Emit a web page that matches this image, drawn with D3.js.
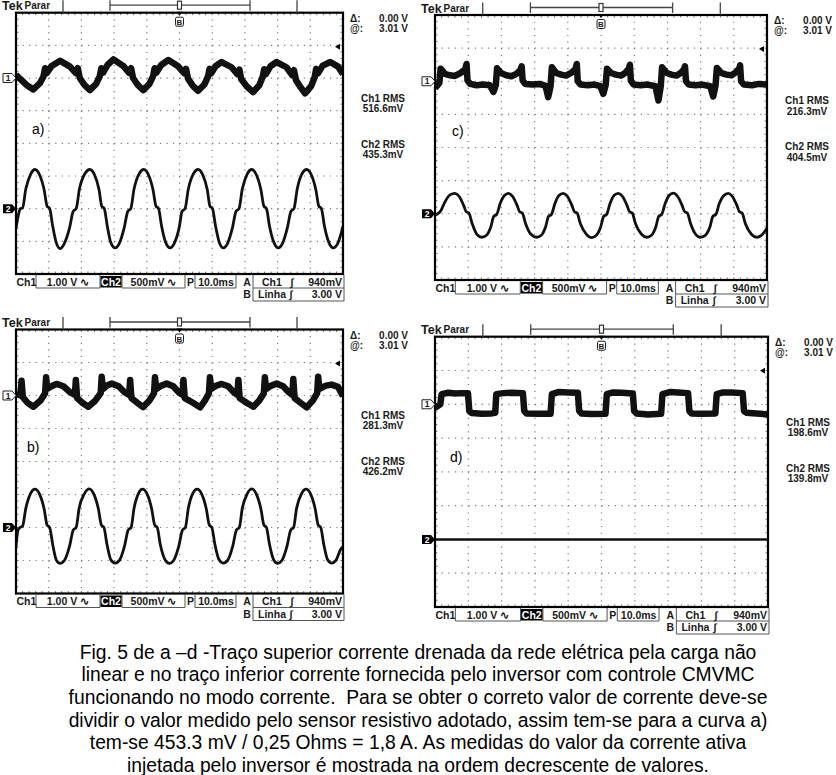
<!DOCTYPE html>
<html><head><meta charset="utf-8">
<script src="https://cdn.jsdelivr.net/npm/d3@7"></script>
<style>body{margin:0;background:#fff}svg{display:block}</style>
</head><body>
<svg id="c" width="836" height="775"></svg>
<script>
// ================= DATA =================
const panelIds = ["a", "b", "c", "d"];
const timeRangeMs = [0, 100];              // 10 div x 10.0 ms
const ch1RmsLabels = ["516.6mV", "281.3mV", "216.3mV", "198.6mV"];
const ch2RmsLabels = ["435.3mV", "426.2mV", "404.5mV", "139.8mV"];
const ch1Setting = "1.00 V \u223F";
const ch2Setting = "500mV \u223F";
const timebaseSetting = "10.0ms";
const trigASource = "Ch1", trigALevel = "940mV";
const trigBSource = "Linha", trigBLevel = "3.00 V";
const deltaReadout = "0.00 V", atReadout = "3.01 V";

// Ch1 traces: [time ms, volts]  (1.00 V/div)
const aCh1 = [[0,0.10],[1.2,-0.02],[3.3,-0.22],[5.3,-0.35],[7.3,-0.16],[8.4,0.05],[8.9,0.30],[9.4,0.15],[10.9,0.37],[13.5,0.53],[16.5,0.35],[18.3,0.15],[18.9,0.30],[19.5,0.0],[21.0,-0.22],[22.6,-0.37],[24.5,-0.18],[25.6,0.05],[26.1,0.30],[26.6,0.16],[28.0,0.40],[29.8,0.57],[32.8,0.37],[34.6,0.16],[35.2,0.30],[35.8,0.0],[37.3,-0.22],[38.9,-0.37],[40.8,-0.18],[41.9,0.05],[42.4,0.30],[42.9,0.16],[44.4,0.40],[46.6,0.55],[49.6,0.36],[51.4,0.15],[52.0,0.28],[52.6,-0.02],[54.1,-0.24],[55.7,-0.39],[57.6,-0.2],[58.7,0.04],[59.2,0.28],[59.7,0.14],[61.0,0.36],[62.9,0.49],[65.9,0.33],[67.7,0.12],[68.3,0.26],[68.9,-0.04],[70.6,-0.26],[72.5,-0.43],[74.4,-0.22],[75.4,0.02],[75.9,0.27],[76.4,0.12],[77.8,0.36],[79.7,0.49],[82.7,0.33],[84.4,0.10],[85.0,0.24],[85.6,-0.06],[87.0,-0.28],[88.4,-0.47],[90.3,-0.24],[91.3,0.02],[91.8,0.28],[92.3,0.14],[93.8,0.38],[96.1,0.49],[98.5,0.35],[100,0.12]];
const bCh1 = [[0,0.05],[1.4,0.0],[1.7,0.45],[2.1,-0.05],[3.5,-0.22],[5.3,-0.34],[7.5,-0.15],[8.9,0.07],[9.2,0.55],[9.6,0.2],[10.8,0.28],[12.4,0.35],[14.5,0.28],[16.5,0.1],[18.0,0.02],[18.3,0.47],[18.7,-0.08],[20.3,-0.22],[22.1,-0.34],[24.3,-0.15],[25.9,0.07],[26.2,0.57],[26.6,0.2],[27.8,0.3],[29.3,0.36],[31.4,0.28],[33.2,0.1],[34.6,0.02],[34.9,0.47],[35.3,-0.08],[37.1,-0.22],[38.9,-0.35],[40.8,-0.15],[42.2,0.07],[42.5,0.55],[42.9,0.2],[44.5,0.3],[46.1,0.36],[48.1,0.28],[49.7,0.1],[50.9,0.02],[51.2,0.47],[51.6,-0.08],[54.1,-0.22],[56.3,-0.36],[57.8,-0.15],[59.0,0.07],[59.3,0.55],[59.7,0.2],[61.3,0.3],[62.9,0.35],[64.9,0.28],[66.6,0.1],[67.7,0.02],[68.0,0.47],[68.4,-0.08],[70.5,-0.22],[72.6,-0.34],[74.4,-0.15],[75.8,0.07],[76.1,0.55],[76.5,0.2],[78.1,0.3],[79.7,0.36],[81.7,0.28],[83.4,0.1],[84.5,0.02],[84.8,0.5],[85.2,-0.08],[87.0,-0.22],[88.9,-0.36],[90.8,-0.15],[92.1,0.07],[92.4,0.57],[92.8,0.2],[94.8,0.3],[96.5,0.33],[98.5,0.26],[100,-0.02]];
const cCh1 = [[0,-0.2],[0.8,-0.12],[1.3,-0.05],[1.7,0.38],[3.0,0.22],[4.5,0.18],[6.0,0.16],[7.5,0.24],[9.1,0.36],[9.5,0.52],[9.8,0.02],[10.6,-0.08],[12.5,-0.12],[14.5,-0.1],[16.5,-0.12],[17.6,-0.32],[18.3,-0.12],[18.7,0.39],[20.0,0.24],[21.5,0.18],[23.0,0.15],[24.5,0.22],[25.7,0.34],[26.1,0.45],[26.4,0.02],[27.2,-0.08],[29.5,-0.1],[31.5,-0.08],[33.3,-0.14],[34.1,-0.48],[34.8,-0.15],[35.2,0.42],[36.5,0.25],[38.0,0.2],[39.5,0.17],[41.0,0.25],[42.3,0.36],[42.7,0.52],[43.0,0.0],[43.8,-0.1],[46.0,-0.12],[48.0,-0.1],[49.8,-0.15],[50.7,-0.38],[51.4,-0.12],[51.8,0.38],[53.0,0.25],[54.5,0.2],[56.0,0.17],[57.3,0.25],[58.4,0.38],[58.7,0.5],[59.0,0.02],[59.8,-0.1],[62.0,-0.12],[64.0,-0.1],[66.4,-0.15],[67.3,-0.58],[68.0,-0.15],[68.4,0.42],[69.8,0.25],[71.2,0.2],[72.7,0.17],[74.0,0.25],[75.0,0.36],[75.3,0.45],[75.6,0.0],[76.4,-0.1],[78.5,-0.12],[80.5,-0.1],[82.9,-0.15],[83.8,-0.46],[84.5,-0.12],[84.9,0.4],[86.2,0.25],[87.8,0.2],[89.3,0.18],[90.6,0.27],[91.6,0.38],[91.9,0.48],[92.2,0.0],[93.0,-0.1],[95.5,-0.12],[97.5,-0.08],[100,-0.1]];
const dCh1 = [[0,-0.1],[1.6,0.0],[2.0,0.3],[4,0.34],[6,0.32],[8,0.33],[9.9,0.33],[10.3,-0.2],[11,-0.26],[14,-0.28],[17,-0.27],[18.1,-0.25],[18.4,0.3],[20.5,0.33],[23,0.34],[26.4,0.33],[26.8,-0.2],[27.5,-0.27],[31,-0.28],[34.7,-0.28],[35.1,0.3],[37,0.36],[40,0.35],[42.9,0.34],[43.3,-0.2],[44,-0.27],[47,-0.29],[51.2,-0.28],[51.6,0.3],[53.5,0.35],[56,0.34],[59.4,0.32],[59.8,-0.2],[60.5,-0.27],[64,-0.3],[67.9,-0.28],[68.3,0.3],[70.5,0.36],[73,0.35],[76.0,0.33],[76.4,-0.2],[77,-0.27],[80,-0.28],[84.2,-0.27],[84.6,0.3],[86.5,0.35],[89,0.35],[92.4,0.33],[92.8,-0.2],[93.5,-0.25],[96.5,-0.27],[100,-0.3]];

// Ch2 traces: [time ms, millivolts]  (500 mV/div)
const aCh2 = [[0,-300],[0.8,-80],[1.3,0],[2.0,10],[3.0,300],[4.5,530],[5.8,600],[7.2,520],[8.6,290],[9.5,40],[10.3,0],[11.2,-260],[12.3,-520],[13.5,-610],[14.8,-530],[16.4,-290],[17.5,-40],[18.4,0],[19.4,300],[21.0,530],[22.6,600],[24.0,520],[25.4,290],[26.2,40],[27.0,0],[27.9,-260],[29.0,-520],[30.3,-600],[31.6,-530],[33.1,-290],[34.2,-40],[35.1,0],[36.1,300],[37.6,530],[39.1,600],[40.5,520],[41.9,290],[42.8,40],[43.6,0],[44.5,-260],[45.8,-520],[47.1,-600],[48.4,-530],[49.9,-290],[50.8,-40],[51.7,0],[52.7,300],[54.2,530],[55.7,600],[57.1,520],[58.5,290],[59.3,40],[60.1,0],[61.0,-260],[62.2,-520],[63.4,-600],[64.7,-530],[66.2,-290],[67.3,-40],[68.2,0],[69.2,300],[70.7,530],[72.1,600],[73.5,520],[74.9,290],[75.8,40],[76.6,0],[77.5,-260],[78.9,-520],[80.2,-600],[81.5,-530],[83.0,-290],[84.1,-40],[85.0,0],[86.0,300],[87.4,530],[88.9,600],[90.3,520],[91.7,290],[92.6,40],[93.4,0],[94.3,-260],[95.7,-520],[97.0,-600],[98.4,-530],[100,-270]];
const bCh2 = [[0,-290],[0.6,-40],[1.2,0],[2.0,20],[3.0,290],[4.4,510],[5.8,580],[7.2,505],[8.6,280],[9.5,40],[10.3,0],[11.2,-250],[12.3,-490],[13.5,-545],[14.8,-500],[16.4,-280],[17.5,-40],[18.4,0],[19.3,290],[20.9,510],[22.4,585],[23.8,505],[25.2,280],[26.1,40],[26.9,0],[27.8,-250],[29.0,-490],[30.3,-540],[31.6,-500],[33.2,-280],[34.3,-40],[35.2,0],[36.1,290],[37.4,510],[38.7,580],[40.1,505],[41.5,280],[42.4,40],[43.2,0],[44.1,-250],[45.6,-490],[46.9,-545],[48.2,-500],[49.8,-280],[50.9,-40],[51.8,0],[52.7,290],[54.0,510],[55.4,580],[56.8,505],[58.2,280],[59.1,40],[59.9,0],[60.8,-250],[62.1,-490],[63.4,-540],[64.7,-500],[66.3,-280],[67.4,-40],[68.3,0],[69.2,290],[70.7,510],[72.1,585],[73.5,505],[74.9,280],[75.8,40],[76.6,0],[77.5,-250],[78.8,-490],[80.0,-545],[81.3,-500],[82.9,-280],[84.0,-40],[84.9,0],[85.8,290],[87.3,510],[88.7,580],[90.1,505],[91.5,280],[92.4,40],[93.2,0],[94.1,-250],[95.3,-490],[96.5,-540],[97.8,-500],[99.3,-330],[100,-290]];
const cCh2 = [[0,-20],[0.8,0],[1.8,50],[3.0,180],[4.5,285],[6.0,307],[7.3,260],[8.6,130],[9.4,30],[10.2,10],[11.2,-150],[12.6,-310],[14.1,-355],[15.5,-325],[16.8,-200],[17.7,-40],[18.6,-10],[19.6,150],[20.9,275],[22.1,307],[23.4,260],[24.7,130],[25.5,30],[26.3,10],[27.3,-150],[28.9,-310],[30.6,-355],[32.0,-325],[33.3,-200],[34.2,-40],[35.1,-10],[36.1,150],[37.3,275],[38.6,307],[39.9,260],[41.2,130],[42.0,30],[42.8,10],[43.8,-150],[45.6,-310],[47.2,-360],[48.6,-325],[49.9,-200],[50.8,-40],[51.7,-10],[52.7,150],[53.9,275],[55.2,307],[56.5,260],[57.8,130],[58.6,30],[59.4,10],[60.4,-150],[62.2,-310],[63.8,-355],[65.2,-325],[66.5,-200],[67.4,-40],[68.3,-10],[69.3,150],[70.5,275],[71.8,310],[73.1,260],[74.4,130],[75.2,30],[76.0,10],[77.0,-150],[78.5,-310],[79.8,-355],[81.4,-325],[82.8,-200],[83.7,-40],[84.6,-10],[85.6,150],[87.0,275],[88.3,307],[89.6,260],[90.9,130],[91.7,30],[92.5,10],[93.5,-150],[95.3,-310],[96.9,-355],[98.3,-325],[100,-220]];
const dCh2 = [[0,0],[20,0],[40,0],[60,0],[80,0],[100,0]];

const captionLines = [
  "Fig. 5 de a \u2013d -Tra\u00e7o superior corrente drenada da rede el\u00e9trica pela carga n\u00e3o",
  "linear e no tra\u00e7o inferior corrente fornecida pelo inversor com controle CMVMC",
  "funcionando no modo corrente.  Para se obter o correto valor de corrente deve-se",
  "dividir o valor medido pelo sensor resistivo adotado, assim tem-se para a curva a)",
  "tem-se 453.3 mV / 0,25 Ohms = 1,8 A. As medidas do valor da corrente ativa",
  "injetada pelo inversor \u00e9 mostrada na ordem decrescente de valores."
];

// ================= LAYOUT =================
const layout = {
  a: {L: 16,  R: 343, T: 12.7,  B: 274,   lab: [16, 121]},
  b: {L: 16,  R: 343, T: 329.5, B: 593.5, lab: [11, 122]},
  c: {L: 435, R: 767, T: 15,    B: 280,   lab: [17, 121]},
  d: {L: 435, R: 768, T: 336.7, B: 607,   lab: [15, 125]}
};
const traces = {a: [aCh1, aCh2], b: [bCh1, bCh2], c: [cCh1, cCh2], d: [dCh1, dCh2]};

const svg = d3.select("#c");
svg.append("rect").attr("width", 836).attr("height", 775).attr("fill", "#fff");
const scopeFont = "'Liberation Sans', Arial, sans-serif";
const defs = svg.append("defs");
const FS = 10;

function txt(g, x, y, s, size, opts = {}) {
  return g.append("text").attr("x", x).attr("y", y).text(s)
    .attr("font-family", opts.family || scopeFont)
    .attr("font-size", size)
    .attr("font-weight", opts.weight || "bold")
    .attr("fill", opts.fill || "#1a1a1a")
    .attr("text-anchor", opts.anchor || "start");
}

function drawPanel(id, i) {
  const {L, R, T, B, lab} = layout[id];
  const k = (R - L) / 327;
  const g = svg.append("g");
  const x = d3.scaleLinear().domain(timeRangeMs).range([L, R]);
  const gx = d3.scaleLinear().domain([0, 10]).range([L, R]);
  const gy = d3.scaleLinear().domain([0, 8]).range([T, B]);
  const y1 = d3.scaleLinear().domain([-6, 2]).range([B, T]);        // Ch1, V
  const y2 = d3.scaleLinear().domain([-1000, 3000]).range([B, T]);  // Ch2, mV
  const sx = (R - L) / 50, sy = (B - T) / 40;

  // graticule
  g.selectAll(null).data(d3.range(1, 10)).join("line")
    .attr("x1", d => gx(d)).attr("x2", d => gx(d)).attr("y1", T + sy).attr("y2", B)
    .attr("stroke", "#7a7a7a").attr("stroke-width", 1.2).attr("stroke-dasharray", `1.2 ${sy - 1.2}`);
  g.selectAll(null).data(d3.range(1, 8)).join("line")
    .attr("y1", d => gy(d)).attr("y2", d => gy(d)).attr("x1", L + sx).attr("x2", R)
    .attr("stroke", "#7a7a7a").attr("stroke-width", 1.2).attr("stroke-dasharray", `1.2 ${sx - 1.2}`);
  const tk = [];
  for (let m = 1; m < 50; m++) { const xx = L + m * sx; tk.push([xx, T, xx, T + 2.5], [xx, B, xx, B - 2.5]); }
  for (let n = 1; n < 40; n++) { const yy = T + n * sy; tk.push([L, yy, L + 2.5, yy], [R, yy, R - 2.5, yy]); }
  g.selectAll(null).data(tk).join("line")
    .attr("x1", d => d[0]).attr("y1", d => d[1]).attr("x2", d => d[2]).attr("y2", d => d[3])
    .attr("stroke", "#777").attr("stroke-width", 1);

  // traces
  defs.append("clipPath").attr("id", "clip-" + id).append("rect")
    .attr("x", L).attr("y", T).attr("width", R - L).attr("height", B - T);
  const tg = g.append("g").attr("clip-path", `url(#clip-${id})`);
  const [c1, c2] = traces[id];
  const l1 = d3.line().x(d => x(d[0])).y(d => y1(d[1]));
  const l2 = d3.line().x(d => x(d[0])).y(d => y2(d[1])).curve(d3.curveMonotoneX);
  tg.append("path").datum(c1).attr("d", l1).attr("fill", "none")
    .attr("stroke", "#111").attr("stroke-width", 6.5).attr("stroke-linejoin", "round");
  tg.append("path").datum(c2).attr("d", l2).attr("fill", "none")
    .attr("stroke", "#111").attr("stroke-width", id === "d" ? 2.4 : 2.8).attr("stroke-linejoin", "round");

  // border
  g.append("rect").attr("x", L).attr("y", T).attr("width", R - L).attr("height", B - T)
    .attr("fill", "none").attr("stroke", "#000").attr("stroke-width", 2.2);

  // header
  txt(g, L - 14, T - 2.5, "Tek", 12.5);
  txt(g, L + 8.5, T - 3.5, "Parar", 10);
  const hdr = g.append("g").attr("stroke", "#444").attr("stroke-width", 1.3).attr("fill", "none");
  [47, 281].forEach(o => hdr.append("line").attr("x1", L + o * k).attr("x2", L + o * k).attr("y1", T - 12.5).attr("y2", T));
  [94, 234].forEach(o => hdr.append("line").attr("x1", L + o * k).attr("x2", L + o * k).attr("y1", T - 12.5).attr("y2", T - 2));
  hdr.append("line").attr("x1", L + 94 * k).attr("x2", L + 234 * k).attr("y1", T - 7.5).attr("y2", T - 7.5);
  const cx = (L + R) / 2;
  g.append("rect").attr("x", cx - 2).attr("y", T - 11.5).attr("width", 4).attr("height", 8)
    .attr("fill", "#fff").attr("stroke", "#333").attr("stroke-width", 1.2);
  g.append("path").attr("d", `M${cx - 3},${T - 1} L${cx + 3},${T - 1} L${cx},${T + 3} Z`).attr("fill", "#000");
  g.append("rect").attr("x", cx - 4).attr("y", T + 4.5).attr("width", 8).attr("height", 9).attr("rx", 1.5)
    .attr("fill", "#fff").attr("stroke", "#222").attr("stroke-width", 1);
  txt(g, cx, T + 12.3, "B", 8, {anchor: "middle"});

  // trigger level arrow
  g.append("path").attr("d", `M${R - 8},${T + 34} L${R - 3},${T + 31} L${R - 3},${T + 37} Z`).attr("fill", "#000");

  // channel markers
  const m1 = y1(0), m2 = y2(0);
  g.append("path").attr("d", `M${L - 13},${m1 - 4.5} H${L - 4} L${L},${m1} L${L - 4},${m1 + 4.5} H${L - 13} Z`)
    .attr("fill", "#fff").attr("stroke", "#222").attr("stroke-width", 1);
  txt(g, L - 8, m1 + 3.2, "1", 8.5, {anchor: "middle"});
  g.append("path").attr("d", `M${L - 13},${m2 - 4.5} H${L - 4} L${L},${m2} L${L - 4},${m2 + 4.5} H${L - 13} Z`)
    .attr("fill", "#000");
  txt(g, L - 8, m2 + 3.2, "2", 8.5, {anchor: "middle", fill: "#fff"});

  // right readouts
  txt(g, R + 7, T + 9, "\u0394:", FS);
  txt(g, R + 7, T + 19, "@:", FS);
  txt(g, R + 65, T + 9, deltaReadout, FS, {anchor: "end"});
  txt(g, R + 65, T + 19, atReadout, FS, {anchor: "end"});
  txt(g, R + 40, T + 89, "Ch1 RMS", FS, {anchor: "middle"});
  txt(g, R + 40, T + 99.5, ch1RmsLabels[i], FS, {anchor: "middle"});
  txt(g, R + 40, T + 135, "Ch2 RMS", FS, {anchor: "middle"});
  txt(g, R + 40, T + 145.5, ch2RmsLabels[i], FS, {anchor: "middle"});

  // panel label
  txt(g, L + lab[0], T + lab[1], id + ")", 14, {weight: "normal", fill: "#000"});

  // bottom status
  const r1 = B + 11.5, r2 = B + 24;
  const BF = 10.5;
  const box = g.append("g").attr("stroke", "#555").attr("stroke-width", 1).attr("fill", "none");
  const X = o => L + o * k;
  [[20, 84], [106, 169], [179, 220]].forEach(([a, b]) =>
    box.append("path").attr("d", `M${X(a)},${B + 1} V${B + 14} H${X(b)} V${B + 1}`));
  box.append("path").attr("d", `M${X(237)},${B + 1} V${B + 27} H${R + 1} V${B + 1} M${X(237)},${B + 14} H${R + 1}`);
  txt(g, L + 0.5, r1, "Ch1", BF);
  txt(g, X(52), r1, ch1Setting, BF, {anchor: "middle"});
  g.append("rect").attr("x", X(84.5)).attr("y", B + 2).attr("width", 21 * k).attr("height", 11.5).attr("fill", "#000");
  txt(g, X(95), r1, "Ch2", BF, {anchor: "middle", fill: "#fff"});
  txt(g, X(137.5), r1, ch2Setting, BF, {anchor: "middle"});
  txt(g, X(174.5), r1, "P", BF, {anchor: "middle"});
  txt(g, X(200), r1, timebaseSetting, BF, {anchor: "middle"});
  txt(g, X(231), r1, "A", BF, {anchor: "middle"});
  txt(g, X(246), r1, trigASource, BF);
  txt(g, X(276), r1, "\u222B", BF, {anchor: "middle"});
  txt(g, R - 1, r1, trigALevel, BF, {anchor: "end"});
  txt(g, X(231), r2, "B", BF, {anchor: "middle"});
  txt(g, X(242), r2, trigBSource, BF);
  txt(g, X(275), r2, "\u222B", BF, {anchor: "middle"});
  txt(g, R - 1, r2, trigBLevel, BF, {anchor: "end"});
}

panelIds.forEach((id, i) => drawPanel(id, i));

// caption
const cap = svg.append("g");
captionLines.forEach((s, i) => {
  cap.append("text").attr("x", 418).attr("y", 658.5 + i * 22.7).text(s)
    .attr("font-family", "'Liberation Sans', Arial, sans-serif").attr("font-size", 19.3)
    .attr("text-anchor", "middle").attr("fill", "#000").style("white-space", "pre");
});
</script>
</body></html>
